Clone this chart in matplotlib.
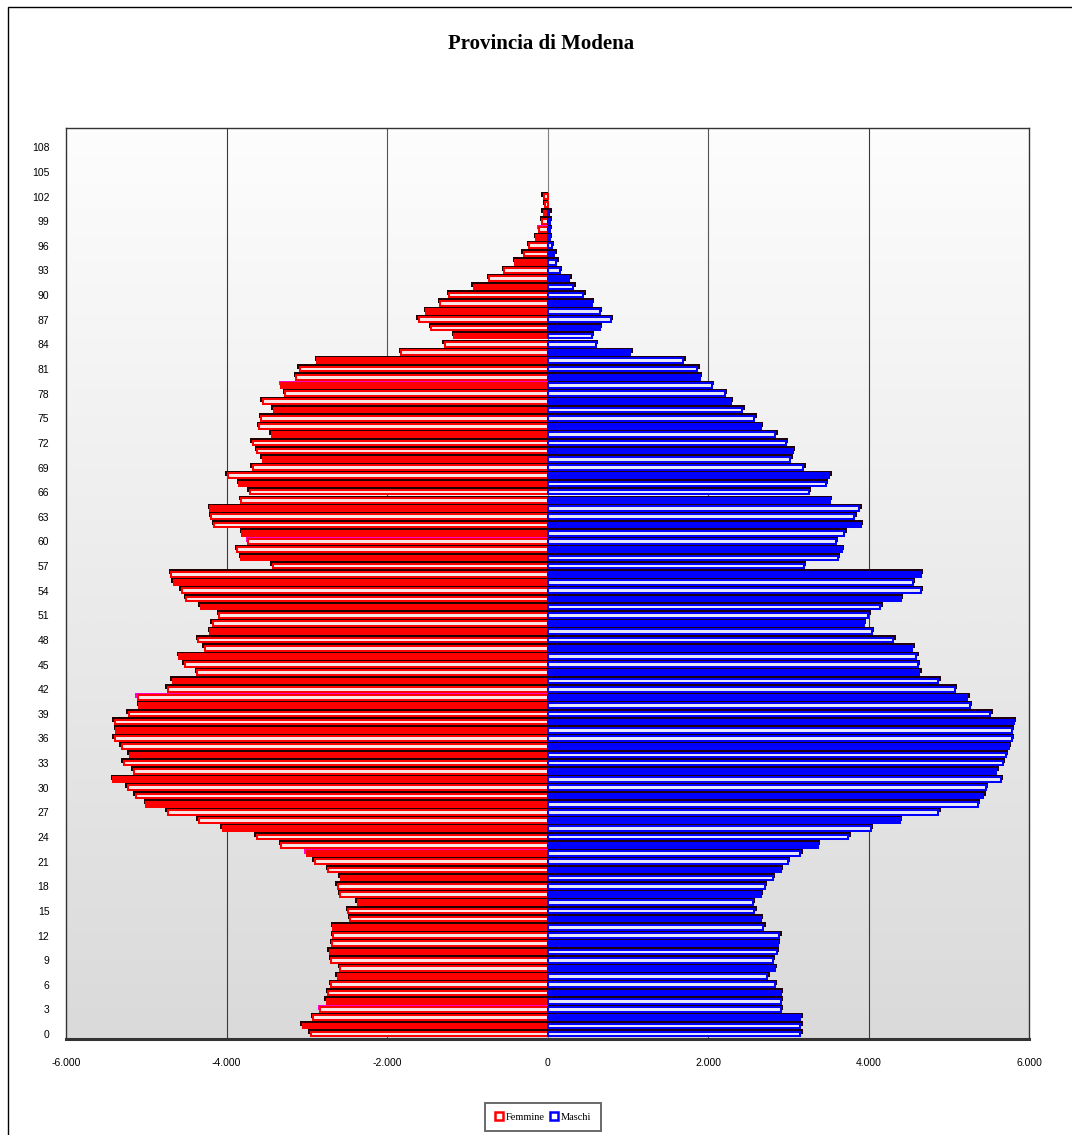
import numpy as np
import matplotlib
matplotlib.use("Agg")
import matplotlib.pyplot as plt
from matplotlib.patches import Rectangle, Patch
from matplotlib.colors import LinearSegmentedColormap

# ---------------- data ----------------
ages = list(range(0, 103))
femmine = [2950, 3050, 2920, 2830, 2750, 2735, 2695, 2615, 2580, 2695,
           2715, 2680, 2670, 2670, 2455, 2480, 2365, 2580, 2615, 2575,
           2735, 2900, 3000, 3315, 3625, 4045, 4345, 4735, 5000, 5130,
           5230, 5410, 5155, 5280, 5205, 5305, 5395, 5375, 5395, 5220,
           5090, 5105, 4735, 4670, 4365, 4520, 4590, 4270, 4350, 4205,
           4170, 4090, 4320, 4505, 4560, 4660, 4690, 3425, 3820, 3865,
           3730, 3805, 4155, 4190, 4205, 3820, 3710, 3845, 3985, 3675,
           3550, 3620, 3675, 3435, 3595, 3565, 3410, 3550, 3270, 3315,
           3130, 3090, 2870, 1820, 1280, 1160, 1450, 1605, 1515, 1335,
           1225, 920, 725, 540, 400, 295, 225, 140, 100, 65,
           45, 30, 45]
maschi = [3150, 3150, 3150, 2910, 2910, 2910, 2830, 2740, 2830, 2810,
          2860, 2870, 2890, 2690, 2655, 2575, 2555, 2655, 2710, 2810,
          2910, 2995, 3150, 3365, 3750, 4030, 4390, 4870, 5365, 5430,
          5465, 5650, 5595, 5670, 5710, 5750, 5785, 5785, 5810, 5520,
          5260, 5230, 5075, 4870, 4635, 4615, 4595, 4545, 4310, 4040,
          3940, 3995, 4145, 4400, 4650, 4550, 4650, 3195, 3615, 3670,
          3590, 3700, 3905, 3825, 3885, 3515, 3255, 3465, 3510, 3190,
          3025, 3055, 2970, 2840, 2660, 2575, 2425, 2285, 2210, 2050,
          1895, 1865, 1690, 1030, 600, 555, 655, 790, 655, 555,
          445, 320, 270, 155, 110, 85, 55, 30, 30, 30,
          20, 0, 0]
ytick_vals = list(range(0, 109, 3))
xtick_vals = [-6000, -4000, -2000, 0, 2000, 4000, 6000]
xtick_labels = ["-6.000", "-4.000", "-2.000", "0", "2.000", "4.000", "6.000"]
magenta_ages = [3, 22, 41, 60, 79, 98]
title = "Provincia di Modena"
legend_labels = ["Femmine", "Maschi"]

# ---------------- figure ----------------
W, H = 1072, 1135
fig = plt.figure(figsize=(W / 100, H / 100), dpi=100)
fig.patch.set_facecolor("white")

L, R, T, B = 66, 1029, 128, 1039
ax = fig.add_axes([L / W, 1 - B / H, (R - L) / W, (B - T) / H])

ylo, yhi = -0.6, 110.35
xlo, xhi = -6000, 6000

# gradient background
cmap = LinearSegmentedColormap.from_list("bg", ["#dadada", "#fdfdfd"])
grad = np.linspace(0, 1, 256).reshape(-1, 1)
ax.imshow(grad, extent=[xlo, xhi, ylo, yhi], origin="lower", aspect="auto",
          cmap=cmap, zorder=0, interpolation="bicubic")

# grid lines
for gx in [-4000, -2000, 2000, 4000]:
    ax.axvline(gx, color="#3a3a3a" if abs(gx) == 4000 else "#555555", lw=0.8, zorder=1)
ax.axvline(0, color="#808080", lw=0.8, zorder=1)

fem = np.array(femmine, dtype=float)
mas = np.array(maschi, dtype=float)
y = np.array(ages, dtype=float)

bh = 0.57
lw = 1.45
sh_h = 0.60
sh_off = 0.29
ext = 30

# shadows (dark line above each bar; magenta for some female bars)
fem_shadow_col = ["#ff00cc" if a in magenta_ages else "#200000" for a in ages]
ax.barh(y + sh_off, -(fem + np.where(fem > 0, ext, 0)), height=sh_h, color=fem_shadow_col,
        lw=0, zorder=2)
ax.barh(y + sh_off, mas + np.where(mas > 0, ext, 0), height=sh_h, color="#200010",
        lw=0, zorder=2)

# bars (alternating filled / hollow style)
for a, fv, mv in zip(ages, fem, mas):
    if fv > 0:
        filled = (a % 3 == 1)
        ax.barh(a, -fv, height=bh, facecolor="#ff0000" if filled else "#fbe4e4",
                edgecolor="#ff0000", lw=lw, zorder=3)
    if mv > 0:
        filled = (a % 3 == 2)
        ax.barh(a, mv, height=bh, facecolor="#0000ff" if filled else "#e6e6fb",
                edgecolor="#0000ff", lw=lw, zorder=3)

ax.set_xlim(xlo, xhi)
ax.set_ylim(ylo, yhi)
ax.set_yticks(ytick_vals)
ax.set_yticklabels([str(v) for v in ytick_vals])
ax.set_xticks(xtick_vals)
ax.set_xticklabels(xtick_labels)
ax.tick_params(axis="both", length=0, labelsize=7.5, labelfontfamily="Liberation Sans")
ax.tick_params(axis="y", pad=12)
ax.tick_params(axis="x", pad=14)

for s in ["left", "right", "top"]:
    ax.spines[s].set_color("#333333")
    ax.spines[s].set_linewidth(1.0)
ax.spines["bottom"].set_color("#333333")
ax.spines["bottom"].set_linewidth(2.2)

# title
fig.text(541 / W, 1 - 44 / H, title, ha="center", va="center", fontsize=15,
         fontweight="bold", family="Liberation Serif")

# legend
handles = [Patch(facecolor="white", edgecolor="#ff0000", lw=1.8),
           Patch(facecolor="white", edgecolor="#0000ff", lw=1.8)]
leg = fig.legend(handles, legend_labels, loc="center", ncol=2,
                 bbox_to_anchor=(543 / W, 1 - 1117 / H), frameon=True, fancybox=False,
                 edgecolor="#444444", prop={"family": "Liberation Serif", "size": 7.5},
                 handlelength=0.8, handleheight=0.8, handletextpad=0.25, columnspacing=0.5,
                 borderpad=0.9, borderaxespad=0)
leg.get_frame().set_linewidth(1.4)

# outer chart border
fig.add_artist(Rectangle((8 / W, -0.05), 1.2, 1 - 7 / H + 0.05, transform=fig.transFigure,
                         fill=False, edgecolor="black", lw=1.0))

fig.savefig("out.png", dpi=100)
